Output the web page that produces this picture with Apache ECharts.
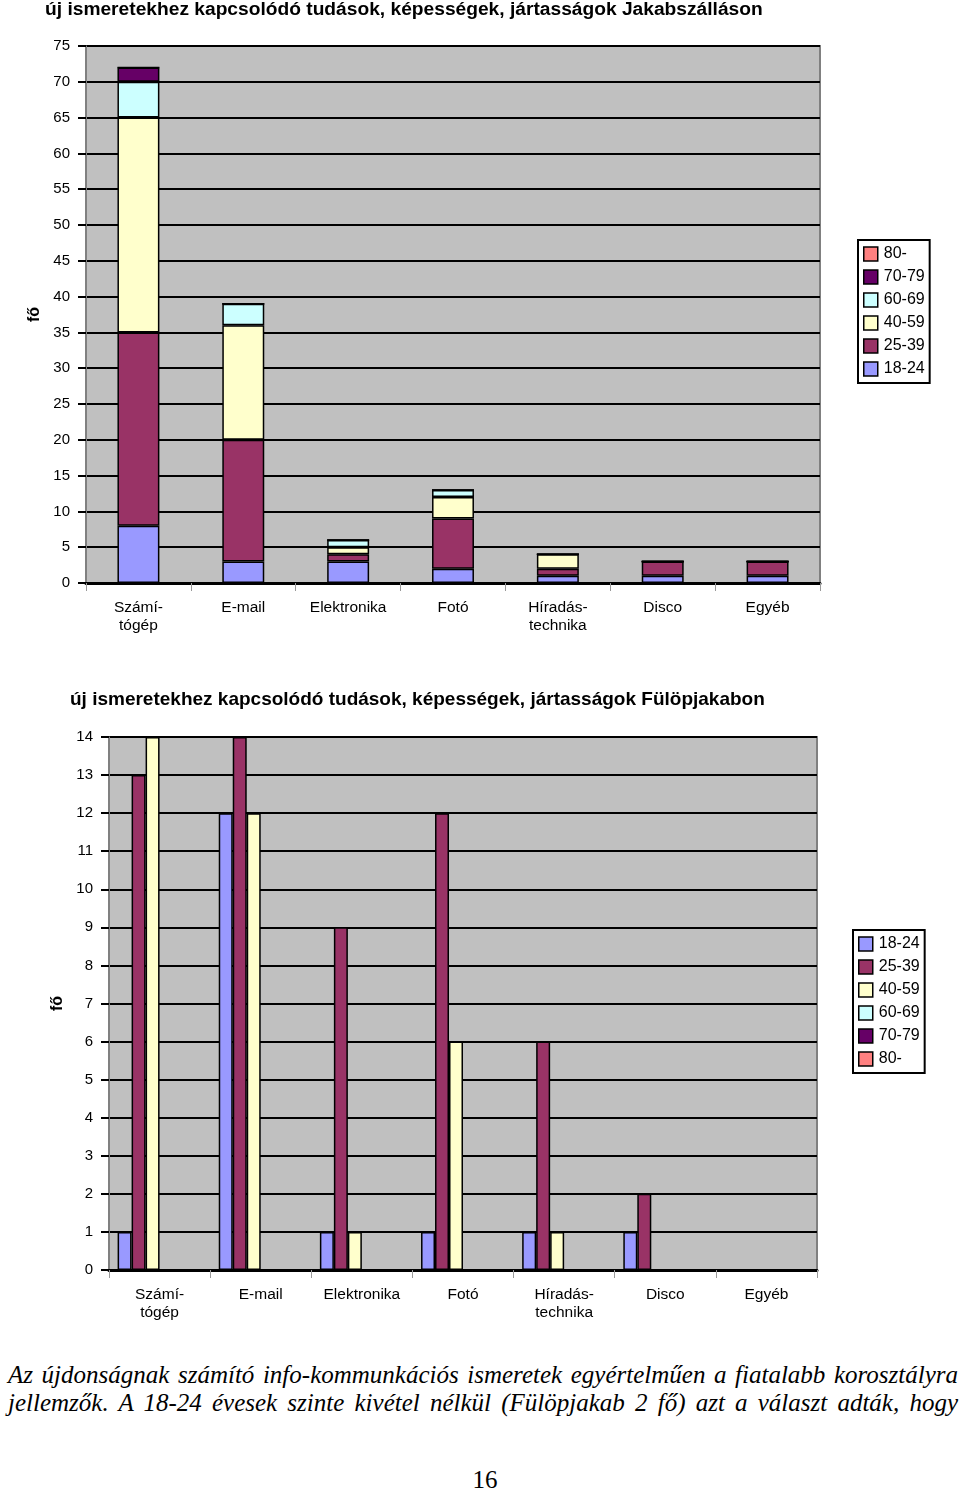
<!DOCTYPE html>
<html>
<head>
<meta charset="utf-8">
<script src="https://cdn.jsdelivr.net/npm/echarts@6/dist/echarts.min.js"></script>
<style>
    html, body { margin: 0; padding: 0; background: #fff; }
    #main { position: absolute; left: 0; top: 0; width: 960px; height: 1340px; }
    #szoveg {
        position: absolute; left: 8px; top: 1361px; width: 950px;
        font-family: "Liberation Serif", "DejaVu Serif", serif; font-style: italic;
        font-size: 25px; line-height: 28px; color: #000;
        text-align: justify; text-align-last: justify;
    }
    #oldal {
        position: absolute; left: 0; top: 1466px; width: 970px; text-align: center;
        font-family: "Liberation Serif", serif; font-size: 25px; color: #000;
    }
</style>
</head>
<body>
<div id="main"></div>
<div id="szoveg">Az újdonságnak számító info-kommunkációs ismeretek egyértelműen a fiatalabb korosztályra<br>jellemzők. A 18-24 évesek szinte kivétel nélkül (Fülöpjakab 2 fő) azt a választ adták, hogy</div>
<div id="oldal">16</div>
<script>
// kategóriák és korcsoportok
var kategoriak = ['Számí-\ntógép', 'E-mail', 'Elektronika', 'Fotó', 'Híradás-\ntechnika', 'Disco', 'Egyéb'];
var korcsoportok = ['18-24', '25-39', '40-59', '60-69', '70-79', '80-'];
var szinek = ['#9999ff', '#993366', '#ffffcc', '#ccffff', '#660066', '#ff8080'];

// Jakabszállás (halmozott)
var jakab1824 = [8, 3, 3, 2, 1, 1, 1];
var jakab2539 = [27, 17, 1, 7, 1, 2, 2];
var jakab4059 = [30, 16, 1, 3, 2, 0, 0];
var jakab6069 = [5, 3, 1, 1, 0, 0, 0];
var jakab7079 = [2, 0, 0, 0, 0, 0, 0];
var jakab80 = [0, 0, 0, 0, 0, 0, 0];

// Fülöpjakab (csoportosított)
var fulop1824 = [1, 12, 1, 1, 1, 1, 0];
var fulop2539 = [13, 14, 9, 12, 6, 2, 0];
var fulop4059 = [14, 12, 1, 6, 1, 0, 0];
var fulop6069 = [0, 0, 0, 0, 0, 0, 0];
var fulop7079 = [0, 0, 0, 0, 0, 0, 0];
var fulop80 = [0, 0, 0, 0, 0, 0, 0];

var jakabAdat = [jakab1824, jakab2539, jakab4059, jakab6069, jakab7079, jakab80];
var fulopAdat = [fulop1824, fulop2539, fulop4059, fulop6069, fulop7079, fulop80];

var betu = 'Liberation Sans';

function tengelyX(idx) {
    return {
        type: 'category', gridIndex: idx, data: kategoriak,
        axisLine: { lineStyle: { color: '#000', width: 3 } },
        axisTick: { show: true, length: 8, lineStyle: { color: '#999', width: 1 } },
        axisLabel: { color: '#000', fontFamily: betu, fontSize: 15.5, margin: 16, lineHeight: 18, interval: 0 }
    };
}
function tengelyY(idx, max, koz, tav) {
    return {
        type: 'value', gridIndex: idx, min: 0, max: max, interval: koz,
        name: 'fő', nameLocation: 'middle', nameRotate: 90, nameGap: tav,
        nameTextStyle: { color: '#000', fontFamily: betu, fontSize: 16, fontWeight: 'bold' },
        axisLine: { show: true, lineStyle: { color: '#808080', width: 1 } },
        axisTick: { show: true, length: 8, lineStyle: { color: '#000', width: 2 } },
        axisLabel: { color: '#000', fontFamily: betu, fontSize: 15, margin: 16 },
        splitLine: { lineStyle: { color: '#000', width: 2 } }
    };
}

var sorozatok = [];
korcsoportok.forEach(function (nev, i) {
    sorozatok.push({
        name: nev, type: 'bar', stack: 'jakab', xAxisIndex: 0, yAxisIndex: 0,
        data: jakabAdat[i], barWidth: '40%',
        itemStyle: { color: szinek[i], borderColor: '#000', borderWidth: 1.5 }
    });
});
korcsoportok.forEach(function (nev, i) {
    sorozatok.push({
        name: nev, type: 'bar', xAxisIndex: 1, yAxisIndex: 1,
        data: fulopAdat[i], barGap: '0%', barCategoryGap: '17%',
        itemStyle: { color: szinek[i], borderColor: '#000', borderWidth: 1.5 }
    });
});

var legendaStilus = {
    orient: 'vertical', icon: 'rect', itemWidth: 14, itemHeight: 14, itemGap: 7,
    backgroundColor: '#fff', borderColor: '#000', borderWidth: 2, padding: [6, 5, 6, 5],
    textStyle: { color: '#000', fontFamily: betu, fontSize: 16, padding: [0, 0, 0, 1] },
    itemStyle: { borderColor: '#000', borderWidth: 1.5 }
};

var myChart = echarts.init(document.getElementById('main'));
var option = {
    animation: false,
    title: [
        { text: 'új ismeretekhez kapcsolódó tudások, képességek, jártasságok Jakabszálláson', left: 45, top: 0, padding: 0,
          textStyle: { color: '#000', fontFamily: betu, fontSize: 19.2, fontWeight: 'bold' } },
        { text: 'új ismeretekhez kapcsolódó tudások, képességek, jártasságok Fülöpjakabon', left: 70, top: 690, padding: 0,
          textStyle: { color: '#000', fontFamily: betu, fontSize: 19, fontWeight: 'bold' } }
    ],
    legend: [
        Object.assign({}, legendaStilus, { left: 858, top: 240, data: ['80-', '70-79', '60-69', '40-59', '25-39', '18-24'] }),
        Object.assign({}, legendaStilus, { left: 853, top: 930, data: korcsoportok })
    ],
    grid: [
        { left: 86, top: 46, width: 734, height: 537, show: true, backgroundColor: '#c0c0c0', borderColor: '#808080', borderWidth: 2 },
        { left: 109, top: 737, width: 708, height: 533, show: true, backgroundColor: '#c0c0c0', borderColor: '#808080', borderWidth: 2 }
    ],
    xAxis: [tengelyX(0), tengelyX(1)],
    yAxis: [tengelyY(0, 75, 5, 43), tengelyY(1, 14, 1, 42)],
    series: sorozatok
};
if (option && typeof option === "object") {
    myChart.setOption(option, true);
}
</script>
</body>
</html>
